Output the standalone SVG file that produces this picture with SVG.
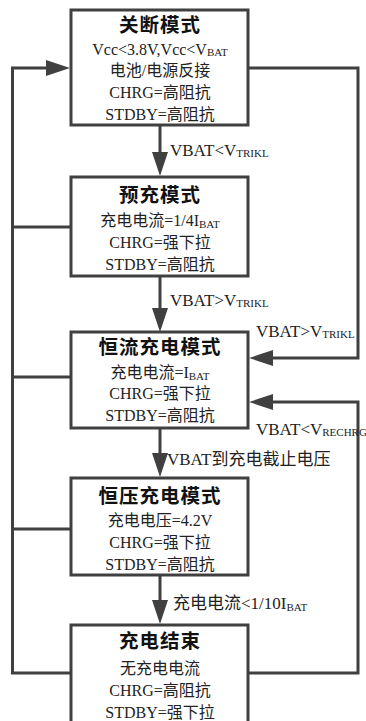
<svg xmlns="http://www.w3.org/2000/svg" width="366" height="721" viewBox="0 0 366 721">
<style>
.box{fill:#fff;stroke:#404040;stroke-width:3}
.ln{fill:none;stroke:#404040;stroke-width:3}
.t{font-family:"Noto Sans CJK SC","Liberation Sans",sans-serif;font-weight:bold;font-size:19.5px;fill:#111;text-anchor:middle;letter-spacing:1px}
.b{font-family:"Liberation Serif","Noto Sans CJK SC",serif;font-size:16px;fill:#222;text-anchor:middle}
.l{font-family:"Liberation Serif","Noto Sans CJK SC",serif;font-size:17px;fill:#222}
.s{font-size:11px}
</style>
<defs>
<marker id="ah" viewBox="0 0 24 16" refX="0" refY="8" markerWidth="24" markerHeight="16" markerUnits="userSpaceOnUse" orient="auto">
<path d="M0,0 L24,8 L0,16 z" fill="#404040"/>
</marker>
</defs>
<rect width="366" height="721" fill="#fff"/>
<g id="connectors">
<path class="ln" d="M71,673 H12.5 V68 H46" marker-end="url(#ah)"/>
<path class="ln" d="M71,227 H12.5"/>
<path class="ln" d="M71,377 H12.5"/>
<path class="ln" d="M71,529 H12.5"/>
<path class="ln" d="M248,68 H358 V358 H273" marker-end="url(#ah)"/>
<path class="ln" d="M248,673 H358 V402 H273" marker-end="url(#ah)"/>
<path class="ln" d="M160,125 V152" marker-end="url(#ah)"/>
<path class="ln" d="M160,276 V308" marker-end="url(#ah)"/>
<path class="ln" d="M160,428 V453" marker-end="url(#ah)"/>
<path class="ln" d="M160,575 V600" marker-end="url(#ah)"/>
<text class="l" x="170" y="156">VBAT&lt;V<tspan class="s" dy="1">TRIKL</tspan></text>
<text class="l" x="170" y="306">VBAT&gt;V<tspan class="s" dy="1">TRIKL</tspan></text>
<text class="l" x="256" y="337">VBAT&gt;V<tspan class="s" dy="1">TRIKL</tspan></text>
<text class="l" x="256" y="435">VBAT&lt;V<tspan class="s" dy="1">RECHRG</tspan></text>
<text class="l" x="167" y="465">VBAT到充电截止电压</text>
<text class="l" x="173" y="609">充电电流&lt;1/10I<tspan class="s" dy="2">BAT</tspan></text>
</g>
<g id="shutdown">
<rect class="box" x="71" y="10" width="177" height="115"/>
<text class="t" x="160" y="32">关断模式</text>
<text class="b" x="160" y="55">Vcc&lt;3.8V,Vcc&lt;V<tspan class="s" dy="1">BAT</tspan></text>
<text class="b" x="160" y="76">电池/电源反接</text>
<text class="b" x="160" y="98">CHRG=高阻抗</text>
<text class="b" x="160" y="120">STDBY=高阻抗</text>
</g>
<g id="precharge">
<rect class="box" x="71" y="177" width="177" height="99"/>
<text class="t" x="160" y="202">预充模式</text>
<text class="b" x="160" y="226">充电电流=1/4I<tspan class="s" dy="2">BAT</tspan></text>
<text class="b" x="160" y="248">CHRG=强下拉</text>
<text class="b" x="160" y="270">STDBY=高阻抗</text>
</g>
<g id="cc">
<rect class="box" x="71" y="332" width="177" height="96"/>
<text class="t" x="160" y="354">恒流充电模式</text>
<text class="b" x="160" y="378">充电电流=I<tspan class="s" dy="2">BAT</tspan></text>
<text class="b" x="160" y="399">CHRG=强下拉</text>
<text class="b" x="160" y="421">STDBY=高阻抗</text>
</g>
<g id="cv">
<rect class="box" x="71" y="478" width="177" height="97"/>
<text class="t" x="160" y="503">恒压充电模式</text>
<text class="b" x="160" y="526">充电电压=4.2V</text>
<text class="b" x="160" y="548">CHRG=强下拉</text>
<text class="b" x="160" y="570">STDBY=高阻抗</text>
</g>
<g id="done">
<rect class="box" x="71" y="625" width="177" height="110"/>
<text class="t" x="160" y="648">充电结束</text>
<text class="b" x="160" y="674">无充电电流</text>
<text class="b" x="160" y="696">CHRG=高阻抗</text>
<text class="b" x="160" y="718">STDBY=强下拉</text>
</g>
</svg>
